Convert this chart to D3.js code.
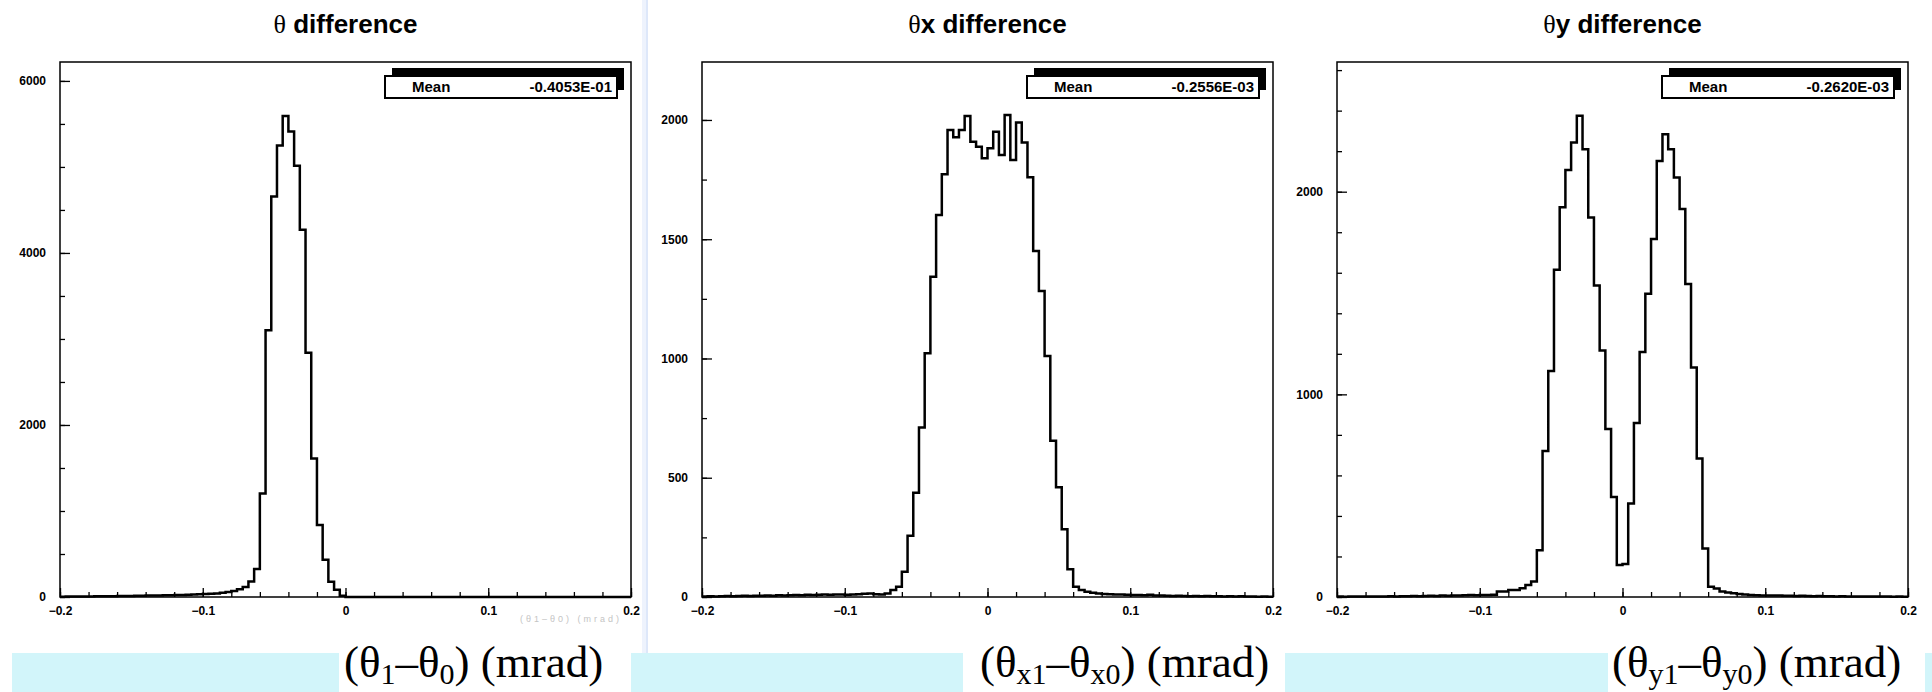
<!DOCTYPE html>
<html lang="en">
<head>
  <meta charset="UTF-8">
  <title>theta difference</title>
  <script src="https://d3js.org/d3.v7.min.js"></script>
  <style>
    body { margin: 0; background: #fff; }
    svg text { font-family: "Liberation Sans", Arial, sans-serif; }
  </style>
</head>
<body>
  <svg id="chart" width="1932" height="692"></svg>
  <script>
    // histogram binning, 100 bins over [-0.2, 0.2] mrad
    const xMin = -0.2, xMax = 0.2, nBins = 100;

    // θ difference
    const thetaCounts = [
      4, 5, 5, 6, 6, 7, 8, 8, 9, 10,
      11, 12, 12, 14, 15, 16, 17, 18, 20, 21,
      22, 24, 26, 29, 31, 35, 38, 42, 50, 58,
      70, 90, 115, 180, 325, 1203, 3102, 4657, 5249, 5593,
      5411, 5013, 4270, 2839, 1609, 836, 433, 178, 85, 15,
      0, 0, 1, 0, 0, 0, 0, 0, 0, 0,
      0, 0, 0, 0, 0, 0, 0, 0, 0, 0,
      0, 0, 0, 0, 0, 0, 0, 0, 0, 0,
      0, 0, 0, 0, 0, 0, 0, 0, 0, 0,
      0, 0, 0, 0, 0, 0, 0, 0, 0, 0
    ];
    // θx difference
    const thetaXCounts = [
      2, 3, 2, 3, 4, 3, 4, 5, 4, 5,
      5, 6, 5, 7, 6, 7, 8, 7, 9, 8,
      9, 10, 9, 11, 10, 9, 10, 12, 14, 15,
      12, 10, 15, 29, 43, 106, 257, 437, 711, 1022,
      1343, 1602, 1772, 1958, 1927, 1958, 2017, 1909, 1888, 1839,
      1881, 1951, 1853, 2021, 1832, 1989, 1906, 1760, 1451, 1283,
      1010, 655, 460, 284, 116, 43, 29, 22, 18, 15,
      13, 12, 10, 10, 9, 8, 8, 7, 9, 6,
      6, 5, 4, 5, 4, 3, 4, 3, 4, 3,
      3, 2, 3, 2, 3, 2, 2, 1, 2, 1
    ];
    // θy difference
    const thetaYCounts = [
      2, 1, 2, 2, 3, 2, 3, 3, 2, 4,
      3, 4, 4, 5, 4, 5, 6, 5, 7, 6,
      8, 7, 9, 10, 9, 10, 10, 11, 27, 27,
      35, 35, 43, 59, 76, 231, 721, 1115, 1615, 1923,
      2107, 2243, 2375, 2210, 1873, 1537, 1216, 829, 494, 158,
      163, 461, 859, 1209, 1496, 1767, 2152, 2284, 2210, 2070,
      1915, 1545, 1132, 684, 239, 51, 42, 27, 22, 18,
      15, 12, 10, 9, 8, 8, 7, 7, 6, 6,
      5, 6, 5, 4, 5, 4, 4, 3, 4, 3,
      3, 2, 3, 2, 2, 3, 2, 1, 2, 1
    ];

    const titleRest = [" difference", "x difference", "y difference"];
    const meanValues = ["-0.4053E-01", "-0.2556E-03", "-0.2620E-03"];
    const subScripts = [["1", "0"], ["x1", "x0"], ["y1", "y0"]];
    const xTickValues = [-0.2, -0.1, 0, 0.1, 0.2];
    const yTickValues = [[0, 2000, 4000, 6000], [0, 500, 1000, 1500, 2000], [0, 1000, 2000]];
    const yMinorStep = [500, 250, 200];
    const yTop = [6220, 2243, 2640];

    const allCounts = [thetaCounts, thetaXCounts, thetaYCounts];

    const svg = d3.select("#chart");
    const frameX = [60, 702, 1337], frameW = 571, frameTop = 62, frameBottom = 597;
    const binW = (xMax - xMin) / nBins;

    // page decorations (separator + cyan label strips)
    svg.append("rect").attr("x", 642).attr("y", 0).attr("width", 6).attr("height", 653).attr("fill", "#eef3fd");
    svg.append("line").attr("x1", 647).attr("x2", 647).attr("y1", 0).attr("y2", 653).attr("stroke", "#cddcf6").attr("stroke-width", 1);
    [[12, 339], [631, 963], [1285, 1608], [1925, 1932]].forEach(s => {
      svg.append("rect").attr("x", s[0]).attr("y", 653).attr("width", s[1] - s[0]).attr("height", 39).attr("fill", "#d2f5fa");
    });

    const labelX = [344, 980, 1612];

    allCounts.forEach((counts, i) => {
      const g = svg.append("g").attr("transform", `translate(${frameX[i]},0)`);
      const x = d3.scaleLinear().domain([xMin, xMax]).range([0, frameW]);
      const y = d3.scaleLinear().domain([0, yTop[i]]).range([frameBottom, frameTop]);

      // minor ticks
      g.append("g").attr("class", "ax")
        .attr("transform", `translate(0,${frameBottom})`)
        .call(d3.axisBottom(x).tickValues(d3.range(-10, 11).map(v => v * 0.02)).tickSize(-5).tickFormat(""));
      g.append("g").attr("class", "ax")
        .call(d3.axisLeft(y).tickValues(d3.range(0, yTop[i], yMinorStep[i])).tickSize(-5).tickFormat(""));

      // major ticks + labels
      g.append("g").attr("class", "ax lab")
        .attr("transform", `translate(0,${frameBottom})`)
        .call(d3.axisBottom(x).tickValues(xTickValues).tickSize(-9).tickPadding(9).tickFormat(d3.format("")));
      g.append("g").attr("class", "ax lab")
        .call(d3.axisLeft(y).tickValues(yTickValues[i]).tickSize(-10).tickPadding(14).tickFormat(d3.format("")));

      g.selectAll(".ax .domain").remove();
      g.selectAll(".ax line").attr("stroke", "#000").attr("stroke-width", 1.3);
      g.selectAll(".lab text").attr("fill", "#000").style("font-size", "12px").style("font-weight", "bold");

      // histogram outline
      const pts = counts.map((c, k) => [xMin + k * binW, c]);
      pts.push([xMax, counts[nBins - 1]]);
      const line = d3.line().x(d => x(d[0])).y(d => y(d[1])).curve(d3.curveStepAfter);
      g.append("path").attr("d", line(pts))
        .attr("fill", "none").attr("stroke", "#000").attr("stroke-width", 2.5);

      // frame
      g.append("rect").attr("x", 0).attr("y", frameTop).attr("width", frameW).attr("height", frameBottom - frameTop)
        .attr("fill", "none").attr("stroke", "#000").attr("stroke-width", 1.5);

      // stats box
      const bx = frameW - 246, bw = 232, by = 76, bh = 22;
      g.append("rect").attr("x", bx + 7).attr("y", by - 8).attr("width", bw).attr("height", bh).attr("fill", "#000");
      g.append("rect").attr("x", bx).attr("y", by).attr("width", bw).attr("height", bh)
        .attr("fill", "#fff").attr("stroke", "#000").attr("stroke-width", 2);
      g.append("text").attr("x", bx + 27).attr("y", by + 16)
        .style("font-size", "15px").style("font-weight", "bold").text("Mean");
      g.append("text").attr("x", bx + bw - 5).attr("y", by + 16).attr("text-anchor", "end")
        .style("font-size", "15px").style("font-weight", "bold").text(meanValues[i]);

      // title
      const t = svg.append("text").attr("x", frameX[i] + frameW / 2).attr("y", 33)
        .attr("text-anchor", "middle").style("font-size", "26px").style("font-weight", "bold");
      t.append("tspan").style("font-family", "'Liberation Serif', serif").style("font-weight", "normal").text("θ");
      t.append("tspan").text(titleRest[i]);

      // axis label below, in serif
      const lab = svg.append("text").attr("x", labelX[i]).attr("y", 677)
        .style("font-family", "'Liberation Serif', 'Times New Roman', serif").style("font-size", "45px");
      lab.append("tspan").text("(θ");
      lab.append("tspan").attr("dy", 7).style("font-size", "30px").text(subScripts[i][0]);
      lab.append("tspan").attr("dy", -7).text("–θ");
      lab.append("tspan").attr("dy", 7).style("font-size", "30px").text(subScripts[i][1]);
      lab.append("tspan").attr("dy", -7).text(") (mrad)");
    });

    // faint leftover axis caption under the first panel
    svg.append("text").attr("x", 622).attr("y", 622).attr("text-anchor", "end")
      .style("font-size", "9px").style("letter-spacing", "3px").attr("fill", "#c4c4c4").text("(θ1–θ0) (mrad)");
  </script>
</body>
</html>
